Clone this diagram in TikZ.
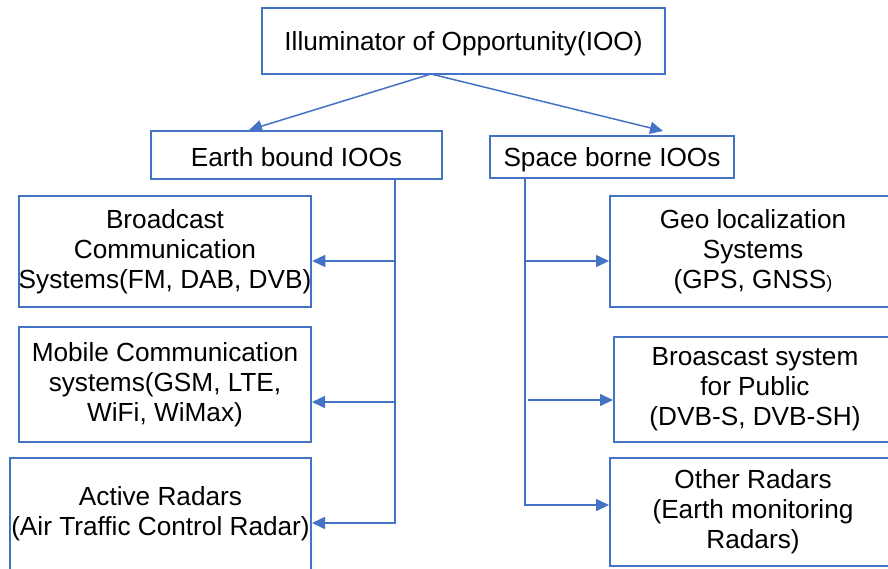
\documentclass[tikz,border=0pt]{standalone}
\usepackage{fontspec}
\setmainfont{Liberation Sans}
\usetikzlibrary{arrows.meta}

\definecolor{iooblue}{RGB}{68,114,196}
\tikzset{
  ioobox/.style={draw=iooblue, line width=2, align=center, inner sep=0pt,
    font=\fontsize{26.2}{30}\selectfont,
    execute at begin node={\rule{0pt}{23.5pt}}},
  ioolink/.style={draw=iooblue, line width=1.5, -{Triangle[length=13pt,width=12pt]}},
}

\begin{document}
\begin{tikzpicture}[x=1pt,y=1pt,yscale=-1]
\path[use as bounding box, clip] (0,0) rectangle (888,568);

% Root
\node [ioobox, minimum width=403, minimum height=66] (ioo) at (463.5,41) {Illuminator of Opportunity(IOO)};
% Two branches
\node [ioobox, minimum width=291, minimum height=48] (earth) at (296.5,155) {Earth bound IOOs};
\node [ioobox, minimum width=244, minimum height=42] (space) at (612,157) {Space borne IOOs};

% Earth bound sources
\node [ioobox, minimum width=292, minimum height=111] (bcast) at (165,251.5) {Broadcast\\Communication\\Systems(FM, DAB, DVB)};
\node [ioobox, minimum width=292, minimum height=115] (mobile) at (165,384.5) {Mobile Communication\\systems(GSM, LTE,\\WiFi, WiMax)};
\node [ioobox, minimum width=301, minimum height=112] (radar) at (160.5,514) {Active Radars\\(Air Traffic Control Radar)};

% Space borne sources
\node [ioobox, minimum width=286, minimum height=111] (geo) at (753,251.5) {Geo localization\\Systems\\(GPS, GNSS{\fontsize{18}{18}\selectfont)}};
\node [ioobox, minimum width=282, minimum height=105] (public) at (755,389.5) {Broascast system\\for Public\\(DVB-S, DVB-SH)};
\node [ioobox, minimum width=286, minimum height=108] (other) at (753,512) {Other Radars\\(Earth monitoring\\Radars)};

% Root to branches
\coordinate (split) at (431,74);
\coordinate (earthin) at (249,130);
\coordinate (spacein) at (663,131);
\draw [ioolink] (split) -- (earthin);
\draw [ioolink] (split) -- (spacein);

% Earth bound bus
\coordinate (eb1) at (395,261);
\coordinate (eb2) at (395,402);
\coordinate (eb3) at (395,523);
\draw [ioolink] (earth.south -| eb1) -- (eb3) -- (radar.east |- eb3);
\draw [ioolink] (eb1) -- (bcast.east |- eb1);
\draw [ioolink] (eb2) -- (mobile.east |- eb2);

% Space borne bus
\coordinate (sb1) at (525,261);
\coordinate (sb2) at (528,400);
\coordinate (sb3) at (525,505);
\draw [ioolink] (space.south -| sb1) -- (sb3) -- (other.west |- sb3);
\draw [ioolink] (sb1) -- (geo.west |- sb1);
\draw [ioolink] (sb2) -- (public.west |- sb2);

\end{tikzpicture}
\end{document}
